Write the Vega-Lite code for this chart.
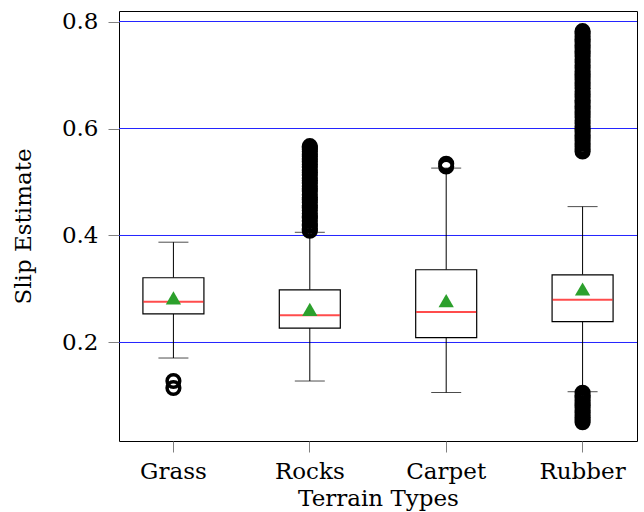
{
  "$schema": "https://vega.github.io/schema/vega-lite/v6.json",
  "width": 518,
  "height": 430,
  "autosize": "none",
  "padding": {"left": 119, "top": 11, "right": 7, "bottom": 71},
  "background": "white",
  "config": {
    "view": {"stroke": "black", "strokeWidth": 1},
    "font": "DejaVu Serif",
    "axis": {
      "labelFont": "DejaVu Serif",
      "labelFontSize": 23,
      "labelColor": "black",
      "titleFont": "DejaVu Serif",
      "titleFontSize": 23,
      "titleFontWeight": "normal",
      "titleColor": "black",
      "domain": false,
      "grid": false,
      "tickColor": "#808080",
      "tickSize": 11,
      "tickWidth": 1
    },
    "axisY": {"labelPadding": 10, "titlePadding": 26}
  },
  "datasets": {
    "grid": [
      {"level": 0.2},
      {"level": 0.4},
      {"level": 0.6},
      {"level": 0.8}
    ],
    "stats": [
      {"terrain": "Grass", "lower": 0.171, "q1": 0.2536, "median": 0.276, "q3": 0.321, "upper": 0.3875, "mean": 0.2835},
      {"terrain": "Rocks", "lower": 0.128, "q1": 0.227, "median": 0.251, "q3": 0.2985, "upper": 0.406, "mean": 0.262},
      {"terrain": "Carpet", "lower": 0.1065, "q1": 0.209, "median": 0.257, "q3": 0.336, "upper": 0.526, "mean": 0.2785},
      {"terrain": "Rubber", "lower": 0.108, "q1": 0.239, "median": 0.28, "q3": 0.3265, "upper": 0.454, "mean": 0.3}
    ],
    "outliers": [
      {"terrain": "Grass", "value": 0.115},
      {"terrain": "Grass", "value": 0.128},
      {"terrain": "Rocks", "value": 0.409},
      {"terrain": "Rocks", "value": 0.412},
      {"terrain": "Rocks", "value": 0.418},
      {"terrain": "Rocks", "value": 0.421},
      {"terrain": "Rocks", "value": 0.427},
      {"terrain": "Rocks", "value": 0.433},
      {"terrain": "Rocks", "value": 0.436},
      {"terrain": "Rocks", "value": 0.441},
      {"terrain": "Rocks", "value": 0.447},
      {"terrain": "Rocks", "value": 0.452},
      {"terrain": "Rocks", "value": 0.456},
      {"terrain": "Rocks", "value": 0.462},
      {"terrain": "Rocks", "value": 0.467},
      {"terrain": "Rocks", "value": 0.471},
      {"terrain": "Rocks", "value": 0.476},
      {"terrain": "Rocks", "value": 0.483},
      {"terrain": "Rocks", "value": 0.487},
      {"terrain": "Rocks", "value": 0.492},
      {"terrain": "Rocks", "value": 0.498},
      {"terrain": "Rocks", "value": 0.503},
      {"terrain": "Rocks", "value": 0.507},
      {"terrain": "Rocks", "value": 0.513},
      {"terrain": "Rocks", "value": 0.518},
      {"terrain": "Rocks", "value": 0.522},
      {"terrain": "Rocks", "value": 0.528},
      {"terrain": "Rocks", "value": 0.533},
      {"terrain": "Rocks", "value": 0.538},
      {"terrain": "Rocks", "value": 0.543},
      {"terrain": "Rocks", "value": 0.548},
      {"terrain": "Rocks", "value": 0.552},
      {"terrain": "Rocks", "value": 0.557},
      {"terrain": "Rocks", "value": 0.561},
      {"terrain": "Rocks", "value": 0.564},
      {"terrain": "Rocks", "value": 0.567},
      {"terrain": "Carpet", "value": 0.529},
      {"terrain": "Carpet", "value": 0.534},
      {"terrain": "Rubber", "value": 0.051},
      {"terrain": "Rubber", "value": 0.055},
      {"terrain": "Rubber", "value": 0.06},
      {"terrain": "Rubber", "value": 0.064},
      {"terrain": "Rubber", "value": 0.069},
      {"terrain": "Rubber", "value": 0.073},
      {"terrain": "Rubber", "value": 0.078},
      {"terrain": "Rubber", "value": 0.083},
      {"terrain": "Rubber", "value": 0.087},
      {"terrain": "Rubber", "value": 0.092},
      {"terrain": "Rubber", "value": 0.097},
      {"terrain": "Rubber", "value": 0.101},
      {"terrain": "Rubber", "value": 0.106},
      {"terrain": "Rubber", "value": 0.557},
      {"terrain": "Rubber", "value": 0.561},
      {"terrain": "Rubber", "value": 0.566},
      {"terrain": "Rubber", "value": 0.572},
      {"terrain": "Rubber", "value": 0.577},
      {"terrain": "Rubber", "value": 0.583},
      {"terrain": "Rubber", "value": 0.588},
      {"terrain": "Rubber", "value": 0.594},
      {"terrain": "Rubber", "value": 0.599},
      {"terrain": "Rubber", "value": 0.604},
      {"terrain": "Rubber", "value": 0.61},
      {"terrain": "Rubber", "value": 0.615},
      {"terrain": "Rubber", "value": 0.621},
      {"terrain": "Rubber", "value": 0.626},
      {"terrain": "Rubber", "value": 0.632},
      {"terrain": "Rubber", "value": 0.637},
      {"terrain": "Rubber", "value": 0.642},
      {"terrain": "Rubber", "value": 0.648},
      {"terrain": "Rubber", "value": 0.653},
      {"terrain": "Rubber", "value": 0.659},
      {"terrain": "Rubber", "value": 0.664},
      {"terrain": "Rubber", "value": 0.669},
      {"terrain": "Rubber", "value": 0.675},
      {"terrain": "Rubber", "value": 0.68},
      {"terrain": "Rubber", "value": 0.686},
      {"terrain": "Rubber", "value": 0.691},
      {"terrain": "Rubber", "value": 0.697},
      {"terrain": "Rubber", "value": 0.702},
      {"terrain": "Rubber", "value": 0.707},
      {"terrain": "Rubber", "value": 0.713},
      {"terrain": "Rubber", "value": 0.718},
      {"terrain": "Rubber", "value": 0.724},
      {"terrain": "Rubber", "value": 0.729},
      {"terrain": "Rubber", "value": 0.735},
      {"terrain": "Rubber", "value": 0.74},
      {"terrain": "Rubber", "value": 0.745},
      {"terrain": "Rubber", "value": 0.751},
      {"terrain": "Rubber", "value": 0.756},
      {"terrain": "Rubber", "value": 0.762},
      {"terrain": "Rubber", "value": 0.767},
      {"terrain": "Rubber", "value": 0.772},
      {"terrain": "Rubber", "value": 0.777},
      {"terrain": "Rubber", "value": 0.782}
    ]
  },
  "layer": [
    {
      "data": {"name": "grid"},
      "mark": {"type": "rule", "color": "#2424ff", "strokeWidth": 1, "opacity": 1},
      "encoding": {
        "y": {
          "field": "level",
          "type": "quantitative",
          "title": "Slip Estimate",
          "scale": {"domain": [0.015887, 0.819627], "nice": false, "zero": false},
          "axis": {"values": [0.2, 0.4, 0.6, 0.8], "format": ".1f"}
        }
      }
    },
    {
      "data": {"name": "stats"},
      "mark": {"type": "rule", "color": "black", "strokeWidth": 1},
      "encoding": {
        "x": {
          "field": "terrain",
          "type": "nominal",
          "sort": ["Grass", "Rocks", "Carpet", "Rubber"],
          "scale": {"domain": ["Grass", "Rocks", "Carpet", "Rubber"], "paddingInner": 0.5, "paddingOuter": 0.149},
          "axis": {"title": "Terrain Types", "labelAngle": 0, "labelPadding": 8, "titlePadding": 4}
        },
        "y": {"field": "lower", "type": "quantitative", "title": "Slip Estimate"},
        "y2": {"field": "q1"}
      }
    },
    {
      "data": {"name": "stats"},
      "mark": {"type": "rule", "color": "black", "strokeWidth": 1},
      "encoding": {
        "x": {"field": "terrain", "type": "nominal", "sort": ["Grass", "Rocks", "Carpet", "Rubber"], "title": "Terrain Types"},
        "y": {"field": "q3", "type": "quantitative", "title": "Slip Estimate"},
        "y2": {"field": "upper"}
      }
    },
    {
      "data": {"name": "stats"},
      "mark": {"type": "tick", "color": "black", "size": 30, "thickness": 1},
      "encoding": {
        "x": {"field": "terrain", "type": "nominal", "sort": ["Grass", "Rocks", "Carpet", "Rubber"], "title": "Terrain Types"},
        "y": {"field": "lower", "type": "quantitative", "title": "Slip Estimate"}
      }
    },
    {
      "data": {"name": "stats"},
      "mark": {"type": "tick", "color": "black", "size": 30, "thickness": 1},
      "encoding": {
        "x": {"field": "terrain", "type": "nominal", "sort": ["Grass", "Rocks", "Carpet", "Rubber"], "title": "Terrain Types"},
        "y": {"field": "upper", "type": "quantitative", "title": "Slip Estimate"}
      }
    },
    {
      "data": {"name": "stats"},
      "mark": {"type": "bar", "width": 61, "fill": "white", "stroke": "black", "strokeWidth": 1.2},
      "encoding": {
        "x": {"field": "terrain", "type": "nominal", "sort": ["Grass", "Rocks", "Carpet", "Rubber"], "title": "Terrain Types"},
        "y": {"field": "q1", "type": "quantitative", "title": "Slip Estimate"},
        "y2": {"field": "q3"}
      }
    },
    {
      "data": {"name": "stats"},
      "mark": {"type": "tick", "color": "#ff0000", "size": 60, "thickness": 2},
      "encoding": {
        "x": {"field": "terrain", "type": "nominal", "sort": ["Grass", "Rocks", "Carpet", "Rubber"], "title": "Terrain Types"},
        "y": {"field": "median", "type": "quantitative", "title": "Slip Estimate"}
      }
    },
    {
      "data": {"name": "outliers"},
      "mark": {"type": "point", "shape": "circle", "filled": false, "stroke": "black", "strokeWidth": 3.5, "size": 160, "opacity": 1},
      "encoding": {
        "x": {"field": "terrain", "type": "nominal", "sort": ["Grass", "Rocks", "Carpet", "Rubber"], "title": "Terrain Types"},
        "y": {"field": "value", "type": "quantitative", "title": "Slip Estimate"}
      }
    },
    {
      "data": {"name": "stats"},
      "mark": {"type": "point", "shape": "triangle-up", "filled": true, "color": "#2ca02c", "size": 234, "opacity": 1},
      "encoding": {
        "x": {"field": "terrain", "type": "nominal", "sort": ["Grass", "Rocks", "Carpet", "Rubber"], "title": "Terrain Types"},
        "y": {"field": "mean", "type": "quantitative", "title": "Slip Estimate"}
      }
    }
  ]
}
